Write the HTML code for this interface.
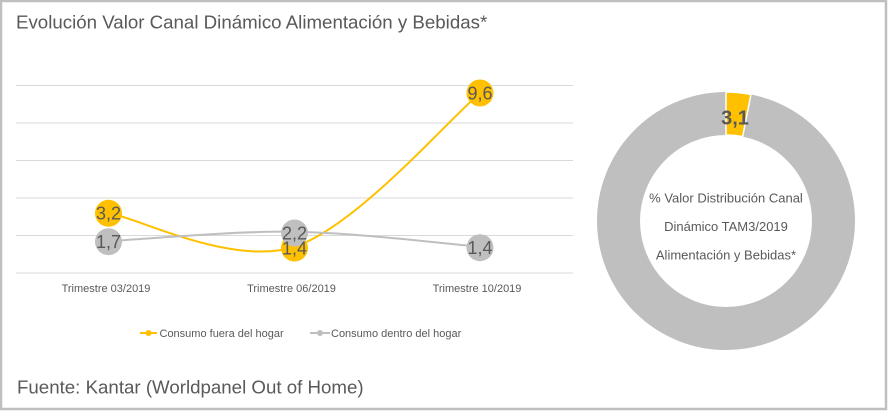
<!DOCTYPE html>
<html>
<head>
<meta charset="utf-8">
<style>
  html, body { margin:0; padding:0; background:#ffffff; }
  .wrap { position:relative; width:888px; height:411px; overflow:hidden; background:#fff; }
  svg { position:absolute; left:0; top:0; }
  text { font-family: "Liberation Sans", Arial, sans-serif; }
</style>
</head>
<body>
<div class="wrap">
<svg width="888" height="411" viewBox="0 0 888 411" xmlns="http://www.w3.org/2000/svg">
  <!-- outer border -->
  <rect x="1" y="1" width="885" height="408" fill="#ffffff" stroke="#bfbfbf" stroke-width="2.5"/>

  <!-- title -->
  <text x="16" y="28.5" font-size="18.7" fill="#595959">Evolución Valor Canal Dinámico Alimentación y Bebidas*</text>

  <!-- gridlines -->
  <g stroke="#d9d9d9" stroke-width="1">
    <line x1="16" y1="85.5" x2="573" y2="85.5"/>
    <line x1="16" y1="123" x2="573" y2="123"/>
    <line x1="16" y1="160.5" x2="573" y2="160.5"/>
    <line x1="16" y1="198" x2="573" y2="198"/>
    <line x1="16" y1="235.5" x2="573" y2="235.5"/>
    <line x1="16" y1="273" x2="573" y2="273"/>
  </g>

  <!-- series lines -->
  <path d="M108.8,213 C139.75,218.6 232.6,266.75 294.5,246.75 C356.4,226.75 449.25,118.6 480.2,93" fill="none" stroke="#ffc000" stroke-width="2"/>
  <path d="M108.8,241.1 C139.75,239.5 232.6,230.8 294.5,231.75 C356.4,232.7 449.25,244.25 480.2,246.75" fill="none" stroke="#bfbfbf" stroke-width="2"/>

  <!-- yellow labels -->
  <g fill="#ffc000">
    <circle cx="108.5" cy="213.3" r="13.5"/>
    <circle cx="294.5" cy="248" r="13.5"/>
    <circle cx="480" cy="93" r="13.5"/>
  </g>
  <!-- grey labels -->
  <g fill="#bfbfbf">
    <circle cx="108.5" cy="241.7" r="13.5"/>
    <circle cx="294.5" cy="233" r="13.5"/>
    <circle cx="480" cy="247.7" r="13.5"/>
  </g>
  <g font-size="18" fill="#595959" text-anchor="middle">
    <text x="108.5" y="219.7">3,2</text>
    <text x="294.5" y="254.4">1,4</text>
    <text x="480" y="99.4">9,6</text>
    <text x="108.5" y="248.1">1,7</text>
    <text x="294.5" y="239.4">2,2</text>
    <text x="480" y="254.1">1,4</text>
  </g>

  <!-- category labels -->
  <g font-size="11" fill="#595959" text-anchor="middle">
    <text x="106" y="292">Trimestre 03/2019</text>
    <text x="291.5" y="292">Trimestre 06/2019</text>
    <text x="477" y="292">Trimestre 10/2019</text>
  </g>

  <!-- legend -->
  <line x1="140" y1="333" x2="157" y2="333" stroke="#ffc000" stroke-width="2"/>
  <circle cx="148.5" cy="333" r="3" fill="#ffc000"/>
  <text x="159.5" y="337" font-size="11" fill="#595959">Consumo fuera del hogar</text>
  <line x1="310" y1="333" x2="330" y2="333" stroke="#bfbfbf" stroke-width="2"/>
  <circle cx="320" cy="333" r="3" fill="#bfbfbf"/>
  <text x="331" y="337" font-size="11" fill="#595959">Consumo dentro del hogar</text>

  <!-- footer -->
  <text x="17" y="393.5" font-size="18.7" fill="#595959">Fuente: Kantar (Worldpanel Out of Home)</text>

  <!-- doughnut -->
  <circle cx="726" cy="221" r="107.5" fill="none" stroke="#bfbfbf" stroke-width="43"/>
  <path d="M726,92 A129,129 0 0 1 750.97,94.44 L742.65,136.63 A86,86 0 0 0 726,135 Z" fill="#ffc000" stroke="#ffffff" stroke-width="1.5" stroke-linejoin="miter"/>
  <text x="735" y="124.3" font-size="20" font-weight="bold" fill="#595959" text-anchor="middle">3,1</text>

  <g font-size="13" fill="#595959" text-anchor="middle">
    <text x="726" y="202.3">% Valor Distribución Canal</text>
    <text x="726" y="231.2">Dinámico TAM3/2019</text>
    <text x="726" y="259.6">Alimentación y Bebidas*</text>
  </g>
</svg>
</div>
</body>
</html>
